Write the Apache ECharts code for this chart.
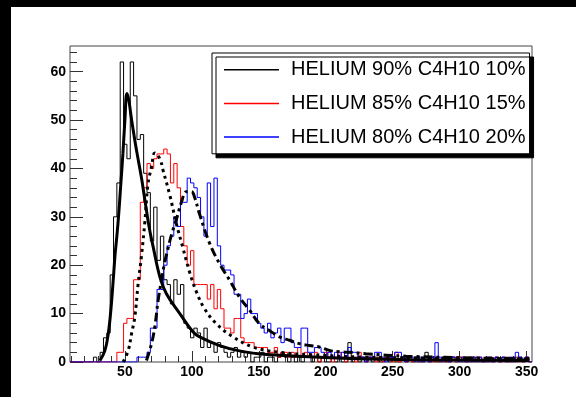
<!DOCTYPE html>
<html><head><meta charset="utf-8">
<script src="https://cdn.jsdelivr.net/npm/echarts@6/dist/echarts.min.js"></script>
<style>html,body{margin:0;padding:0;background:#fff}#c{width:576px;height:397px}</style>
</head><body><div id="c"></div>
<script>
const binStart = 9, binWidth = 2.5;
const seriesNames = ['HELIUM 90% C4H10 10%', 'HELIUM 85% C4H10 15%', 'HELIUM 80% C4H10 20%'];
const histBlack = [
0,0,0,0,0,0,0,1,0,2,
5,6,18,30,37,62,45,42,62,55,
46,47,39,35,25,32,21,26,17,16,
12,17,14,16,8,7,5,7,6,3,
7,3,4,2,4,3,2,1,2,3,
1,2,1,2,0,1,1,2,0,1,
1,0,1,2,1,0,1,0,1,0,
1,1,0,1,0,1,0,0,1,0,
1,0,0,4,0,1,0,1,0,1,
0,1,0,0,1,0,1,0,0,1,
0,1,0,1,0,0,2,0,1,0,
0,1,0,0,1,0,1,0,0,1,
0,1,0,0,1,0,0,1,0,1,
0,0,1,0,1,0,1,0];
const histRed = [
0,0,0,0,0,0,0,0,0,0,
0,0,0,0,2,2,8,9,9,17,
17,33,36,41,40,42,43,43,44,43,
37,41,36,28,24,20,23,16,16,16,
16,13,16,11,15,11,7,7,6,9,
9,5,4,4,4,3,3,3,3,2,
2,3,1,2,2,1,2,1,3,1,
2,1,1,2,0,1,2,1,0,1,
2,1,0,1,1,0,2,1,0,1,
1,0,1,0,1,1,0,2,0,1,
0,1,0,1,0,1,1,0,0,1,
0,1,0,0,1,0,1,1,0,0,
1,0,1,0,0,1,0,1,0,0,
1,0,0,1,0,0,1,0];
const histBlue = [
0,0,0,0,0,0,0,0,0,0,
0,0,0,0,0,0,0,0,0,0,
1,1,1,2,7,7,15,15,20,24,
26,30,28,33,33,38,37,36,34,30,
26,37,28,38,24,20,19,19,18,14,
14,9,10,13,10,10,8,7,6,8,
5,6,7,4,7,7,4,3,3,7,
7,2,2,3,3,2,1,2,1,2,
1,2,1,3,2,2,1,1,0,1,
1,2,2,1,0,1,1,2,2,1,
0,1,1,0,1,0,1,0,1,4,
1,0,1,0,1,1,0,1,0,0,
1,0,1,0,0,1,0,1,0,1,
0,1,0,2,1,0,1,0];

const fitBlackX = [31.4,35.1,37.6,39.6,41.3,42.6,44,45.5,47,48.5,50,51.5,53,54.5,56.2,58.7,62.4,64.9,68,71.1,76.1,81,91,100.9,105.8,120.7,135.6,150.5,165.4,202.6,254.8,300,352];
const fitBlackY = [0.3,2.4,5.9,11,17,22,26,31,37,43,50,55.5,54,51,47.9,43.7,38,33.5,28,23.8,17.6,14.1,10,6.2,5.2,3.4,2.3,1.7,1.4,0.9,0.5,0.4,0.3];
const fitRedX = [48.7,52.5,55,57.4,59.9,62.4,64.9,67.3,69.9,72.3,76.1,78.5,83.5,88.5,93.4,98.4,103.4,109.5,118.3,130.7,145.6,165.4,190.3,230,280,352];
const fitRedY = [0,2.4,5.9,9.3,16.2,22,29,36.9,40.3,43.2,42,39.6,34.5,28.5,23.5,18.5,14.5,11,7.9,5.2,3.1,2,1.5,1,0.8,0.6];
const fitBlueX = [66.1,69.9,72.3,74.8,77.3,79.3,82.2,85,88.5,92.2,95.9,99.7,102.1,105.8,113.3,120.7,128.2,135.6,143.1,150.5,157.9,165.4,172.9,180.3,187.8,195.2,202.6,210.1,217.5,229.9,260,300,352];
const fitBlueY = [0.3,3.8,7.2,12.7,16.9,20,23.5,26.5,29.5,33,35.2,35.2,34,30.5,24.5,20.3,16.9,13.4,10.7,7.9,6.5,5.2,4.5,3.8,3.4,3.1,2.4,2.1,2,1.7,1.2,0.9,0.6];

const xMajor = [50,100,150,200,250,300,350];
const xMinor = [10,20,30,40,60,70,80,90,110,120,130,140,160,170,180,190,210,220,230,240,260,270,280,290,310,320,330,340];
const yMajor = [0,10,20,30,40,50,60];
const yMinor = [2,4,6,8,12,14,16,18,22,24,26,28,32,34,36,38,42,44,46,48,52,54,56,58,62,64];

function stepPoints(counts) {
  const pts = counts.map((c, i) => [binStart + i * binWidth, c]);
  pts.push([binStart + counts.length * binWidth, counts[counts.length - 1]]);
  return pts;
}
function zipXY(xs, ys) { return xs.map((x, i) => [x, ys[i]]); }

const FONT = '"Liberation Sans", Arial, Helvetica, sans-serif';
const chart = echarts.init(document.getElementById('c'), null, {renderer: 'canvas'});
const histColors = ['#000000', '#ff0000', '#0000ff'];
const hists = [histBlack, histRed, histBlue];

const series = hists.map((h, k) => ({
  name: seriesNames[k], type: 'line', step: 'end', data: stepPoints(h),
  xAxisIndex: 0, yAxisIndex: 0, symbol: 'none', color: histColors[k],
  lineStyle: {width: 1, color: histColors[k]}, z: 2 + k
}));
series.push({type: 'line', data: zipXY(fitBlackX, fitBlackY), smooth: 0.4, symbol: 'none',
  lineStyle: {width: 3, color: '#000'}, color: '#000', z: 10});
series.push({type: 'line', data: zipXY(fitRedX, fitRedY), smooth: 0.4, symbol: 'none',
  lineStyle: {width: 3, color: '#000', type: [3, 4]}, color: '#000', z: 10});
series.push({type: 'line', data: zipXY(fitBlueX, fitBlueY), smooth: 0.4, symbol: 'none',
  lineStyle: {width: 3, color: '#000', type: [9, 4, 3, 4]}, color: '#000', z: 10});

const axisCommon = {type: 'value', min: binStart, max: 354, splitLine: {show: false}};
chart.setOption({
  animation: false,
  backgroundColor: '#fff',
  graphic: [
    {type: 'rect', shape: {x: 0, y: 0, width: 576, height: 7}, style: {fill: '#000'}, z: 100},
    {type: 'rect', shape: {x: 0, y: 0, width: 11, height: 397}, style: {fill: '#000'}, z: 100}
  ],
  grid: {left: 70, top: 46, right: 44, bottom: 35, show: true, borderColor: '#444', borderWidth: 1, backgroundColor: '#fff'},
  legend: {
    data: seriesNames, left: 212, top: 53, orient: 'vertical', icon: 'rect',
    itemWidth: 55, itemHeight: 1.5, itemGap: 13.7, padding: [6.7, 4, 6.7, 12],
    selectedMode: false, backgroundColor: '#fff', borderColor: '#000', borderWidth: 1,
    shadowColor: '#000', shadowOffsetX: 4, shadowOffsetY: 4, shadowBlur: 0,
    textStyle: {fontFamily: FONT, fontSize: 20, color: '#000', lineHeight: 20, padding: [0, 0, 0, 7]}
  },
  xAxis: [
    Object.assign({}, axisCommon, {
      position: 'bottom', axisLine: {show: false},
      axisTick: {show: true, inside: true, length: 11, customValues: xMajor, lineStyle: {color: '#333'}},
      axisLabel: {customValues: xMajor, fontFamily: FONT, fontWeight: 'bold', fontSize: 14, color: '#000', margin: 3}
    }),
    Object.assign({}, axisCommon, {
      position: 'bottom', axisLine: {show: false},
      axisTick: {show: true, inside: true, length: 6, customValues: xMinor, lineStyle: {color: '#333'}},
      axisLabel: {show: false}
    })
  ],
  yAxis: [
    {type: 'value', min: 0, max: 65.3, splitLine: {show: false}, axisLine: {show: false},
      axisTick: {show: true, inside: true, length: 13, customValues: yMajor, lineStyle: {color: '#333'}},
      axisLabel: {customValues: yMajor, fontFamily: FONT, fontWeight: 'bold', fontSize: 14, color: '#000', margin: 4}},
    {type: 'value', min: 0, max: 65.3, position: 'left', splitLine: {show: false}, axisLine: {show: false},
      axisTick: {show: true, inside: true, length: 7, customValues: yMinor, lineStyle: {color: '#333'}},
      axisLabel: {show: false}}
  ],
  series: series
});
</script>
</body></html>
